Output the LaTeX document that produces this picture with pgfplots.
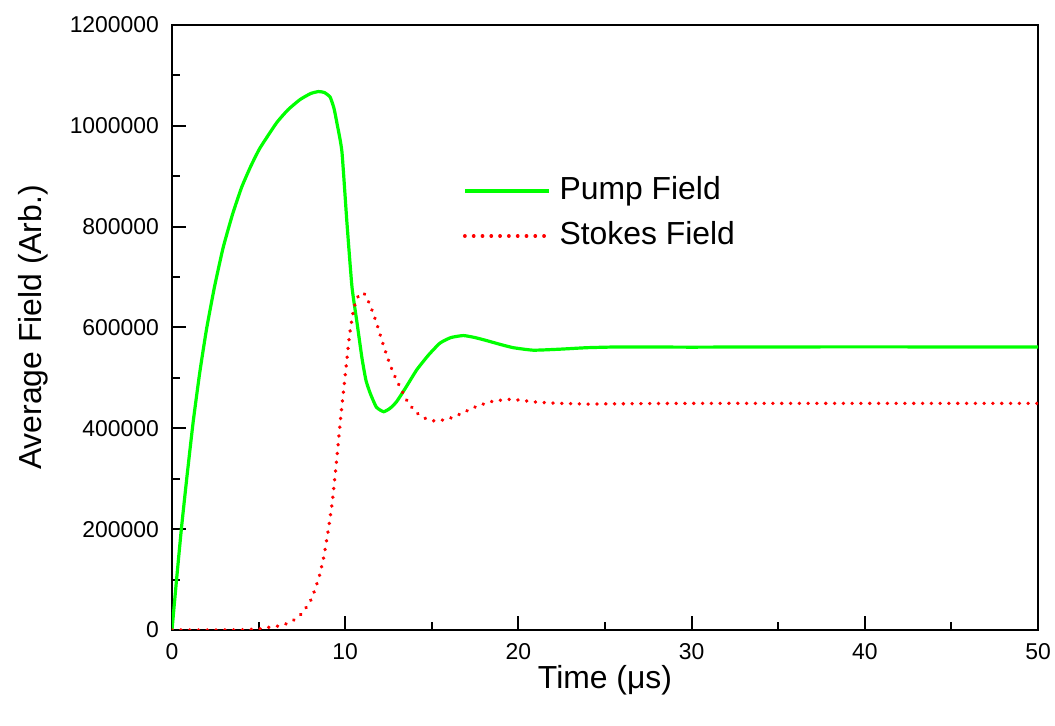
\documentclass[border=0pt]{standalone}
\usepackage{fontspec}
\setmainfont{Liberation Sans}
\usepackage{pgfplots}
\pgfplotsset{compat=1.18}
\definecolor{pumpgreen}{RGB}{0,255,0}
\definecolor{stokesred}{RGB}{255,0,0}
\begin{document}
\begin{tikzpicture}
\useasboundingbox (-86bp,-48bp) rectangle (441.5bp,315bp);
\begin{axis}[
  at={(0,0)}, anchor=south west,
  scale only axis,
  width=433bp, height=302.5bp,
  xmin=0, xmax=50, ymin=0, ymax=1200000,
  xtick={0,10,20,30,40,50},
  ytick={0,200000,400000,600000,800000,1000000,1200000},
  minor x tick num=1, minor y tick num=1,
  tick align=inside, xtick pos=bottom, ytick pos=left,
  major tick length=7bp, minor tick length=4bp,
  axis line style={line width=1bp},
  every tick/.style={black, line width=1bp},
  scaled y ticks=false,
  /pgf/number format/assume math mode=true,
  yticklabel style={/pgf/number format/fixed, /pgf/number format/1000 sep={}, font=\fontsize{11.5}{13}\selectfont, xshift=-3bp},
  xticklabel style={font=\fontsize{11.5}{13}\selectfont, yshift=-3bp},
  xlabel={Time (μs)},
  ylabel={Average Field (Arb.)},
  every axis x label/.style={at={(axis description cs:0.5,-0.0826)}, anchor=center, font=\fontsize{16}{19}\selectfont},
  every axis y label/.style={at={(axis description cs:-0.1605,0.5)}, rotate=90, anchor=center, font=\fontsize{16}{19}\selectfont},
  legend style={draw=none, fill=none, inner sep=0pt, outer sep=0pt,
    at={(axis description cs:0.336,0.6884)}, anchor=west,
    font=\fontsize{16}{19}\selectfont, row sep=7.5bp, column sep=4.5bp,
    nodes={text height=11.5bp, text depth=3.5bp, inner sep=0pt}},
  legend cell align=left,
  legend image code/.code={\draw[#1] (0bp,0bp) -- (42bp,0bp);},
]
\addplot[pumpgreen, line width=1.6bp, smooth, tension=0.3] coordinates {
(0,0) (0.25,95000) (0.54,200000) (0.85,300000) (1.22,412000) (1.6,510000) (1.99,596000)
(2.45,680000) (2.95,758000) (3.5,825000) (4.02,878000) (4.55,920000) (5.08,956000)
(6.04,1006000) (6.7,1032000) (7.39,1052000) (8.0,1064000) (8.46,1068000) (8.8,1066000)
(9.13,1057000) (9.35,1035000) (9.52,1006000) (9.81,949000) (10.1,808000) (10.39,681000)
(10.68,610000) (10.97,539000) (11.2,495000) (11.45,469000) (11.8,442000) (12.22,433000)
(12.6,440000) (12.97,453000) (13.5,481000) (14.13,516000) (14.8,545000) (15.47,569000)
(16.1,580000) (16.82,584000) (17.5,580000) (18.17,574000) (19.0,566000) (19.7,560000)
(20.86,555000) (22.4,557000) (24,560000) (26,561500) (30,561000) (35,561500) (50,561500)
};
\addlegendentry{Pump Field}
\addplot[stokesred, line width=1.8bp, line cap=round, dash pattern=on 0.1bp off 4.3bp, smooth, tension=0.3] coordinates {
(0,0) (1,0) (2,0) (3,0) (4,500) (5,2000) (5.5,5000) (6,7000) (6.5,11000) (7,19000)
(7.5,33000) (8,58000) (8.25,80000) (8.5,106000) (8.75,143000) (9,193000) (9.25,253000)
(9.5,335000) (9.75,425000) (10,505000) (10.25,585000) (10.5,638000) (10.75,662000)
(11.05,669000) (11.3,655000) (11.55,634000) (11.8,610000) (12.05,582000) (12.3,555000)
(12.55,530000) (12.8,508000) (13.05,490000) (13.55,456000) (14.05,433000) (14.55,421000)
(15.05,415000) (15.55,416000) (16.05,420000) (16.55,427000) (17.05,435000) (17.55,443000)
(18.05,449000) (18.55,454000) (19.05,456000) (19.55,457500) (20.05,456000) (20.55,454000)
(21.05,452000) (21.55,451000) (22.05,450000) (23,449000) (24,448000) (25,448500)
(27,449000) (30,449500) (35,449500) (40,449500) (50,449500)
};
\addlegendentry{Stokes Field}
\end{axis}
\end{tikzpicture}
\end{document}
